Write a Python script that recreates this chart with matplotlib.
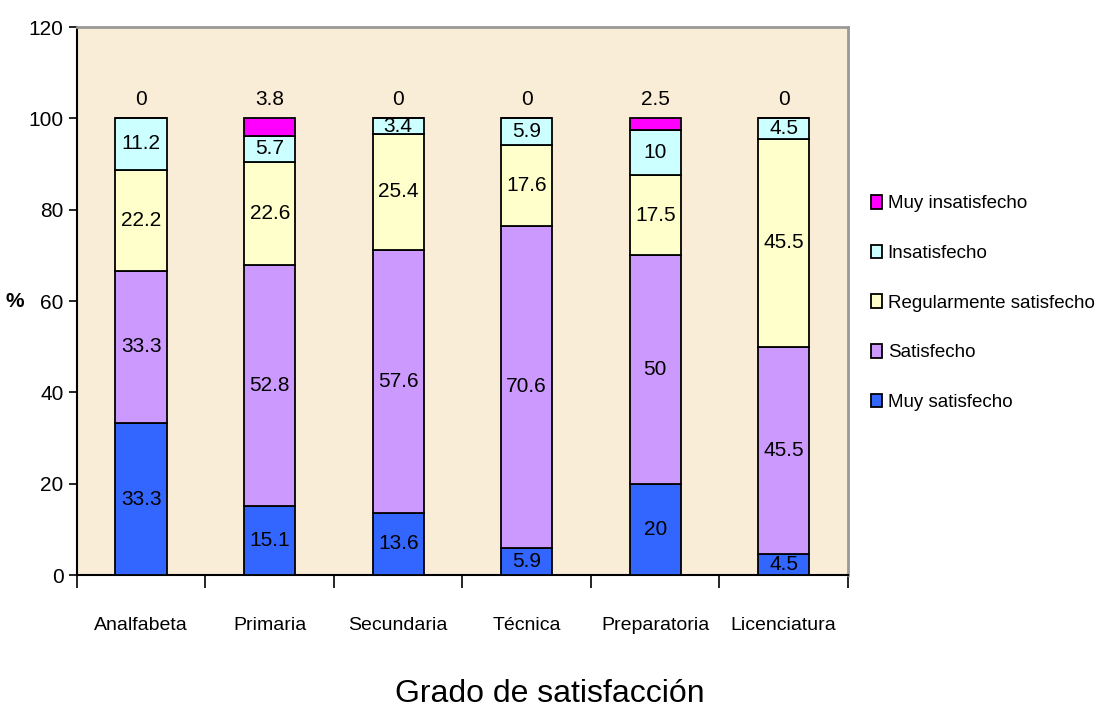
import numpy as np
import matplotlib
matplotlib.use("Agg")
import matplotlib.pyplot as plt
from matplotlib.ticker import FixedLocator

plt.rcParams['font.family'] = ['Liberation Sans', 'DejaVu Sans']

# niveles de escolaridad
niveles = ['Analfabeta', 'Primaria', 'Secundaria', 'Técnica', 'Preparatoria', 'Licenciatura']

# porcentajes por grado de satisfaccion
muy_satisfecho = [33.3, 15.1, 13.6, 5.9, 20, 4.5]
satisfecho = [33.3, 52.8, 57.6, 70.6, 50, 45.5]
regular = [22.2, 22.6, 25.4, 17.6, 17.5, 45.5]
insatisfecho = [11.2, 5.7, 3.4, 5.9, 10, 4.5]
muy_insatisfecho = [0, 3.8, 0, 0, 2.5, 0]

series = [muy_satisfecho, satisfecho, regular, insatisfecho, muy_insatisfecho]
nombres = ['Muy satisfecho', 'Satisfecho', 'Regularmente satisfecho',
           'Insatisfecho', 'Muy insatisfecho']
colores = ['#3366FF', '#CC99FF', '#FFFFCC', '#CCFFFF', '#FF00FF']

fig = plt.figure(figsize=(10.99, 7.13), dpi=100)
ax = fig.add_axes([0.070, 0.1935, 0.7016, 0.7685])
ax.set_facecolor('#FAEDD8')

x = np.arange(len(niveles))
base = np.zeros(len(niveles))
barras = []
for vals, nombre, col in zip(series, nombres, colores):
    vals = np.array(vals, dtype=float)
    b = ax.bar(x, vals, 0.4, bottom=base, color=col, edgecolor='black',
               linewidth=1.3, label=nombre, zorder=3)
    barras.append(b)
    base = base + vals

# etiquetas dentro de los segmentos
for vals, b in zip(series[:-1], barras[:-1]):
    for rect, v in zip(b, vals):
        cy = rect.get_y() + rect.get_height() / 2
        ax.text(rect.get_x() + rect.get_width() / 2, cy, f'{v:g}',
                ha='center', va='center', fontsize=15, zorder=4)

# etiqueta de la serie superior encima de la barra
for i, v in enumerate(muy_insatisfecho):
    ax.annotate(f'{v:g}', xy=(x[i], base[i]), xytext=(0, 7),
                textcoords='offset points', ha='center', va='bottom',
                fontsize=15, zorder=4)

ax.set_ylim(0, 120)
ax.set_xlim(-0.5, len(niveles) - 0.5)
ax.set_yticks(np.arange(0, 121, 20))
ax.tick_params(axis='y', labelsize=15, length=6, width=1.2, direction='out')
ax.set_xticks(x)
ax.set_xticklabels(niveles, fontsize=14)
ax.tick_params(axis='x', which='major', length=0, pad=30)
ax.xaxis.set_minor_locator(FixedLocator(np.arange(-0.5, len(niveles), 1.0)))
ax.tick_params(axis='x', which='minor', length=9, width=1.2, direction='out')

for s in ['left', 'bottom']:
    ax.spines[s].set_color('black')
    ax.spines[s].set_linewidth(1.5)
for s in ['top', 'right']:
    ax.spines[s].set_color('#999999')
    ax.spines[s].set_linewidth(2)

ax.set_ylabel('%', fontsize=15, fontweight='bold', rotation=0, labelpad=10,
              va='center')
fig.text(0.5, 0.006, 'Grado de satisfacción', ha='center', va='bottom',
         fontsize=23)

handles, labels = ax.get_legend_handles_labels()
leg = fig.legend(handles[::-1], labels[::-1], loc='center left',
                 bbox_to_anchor=(0.777, 0.575), frameon=False, fontsize=13.5,
                 handlelength=0.6, handleheight=0.75, handletextpad=0.3,
                 labelspacing=1.72)

fig.savefig('out.png', dpi=100)
